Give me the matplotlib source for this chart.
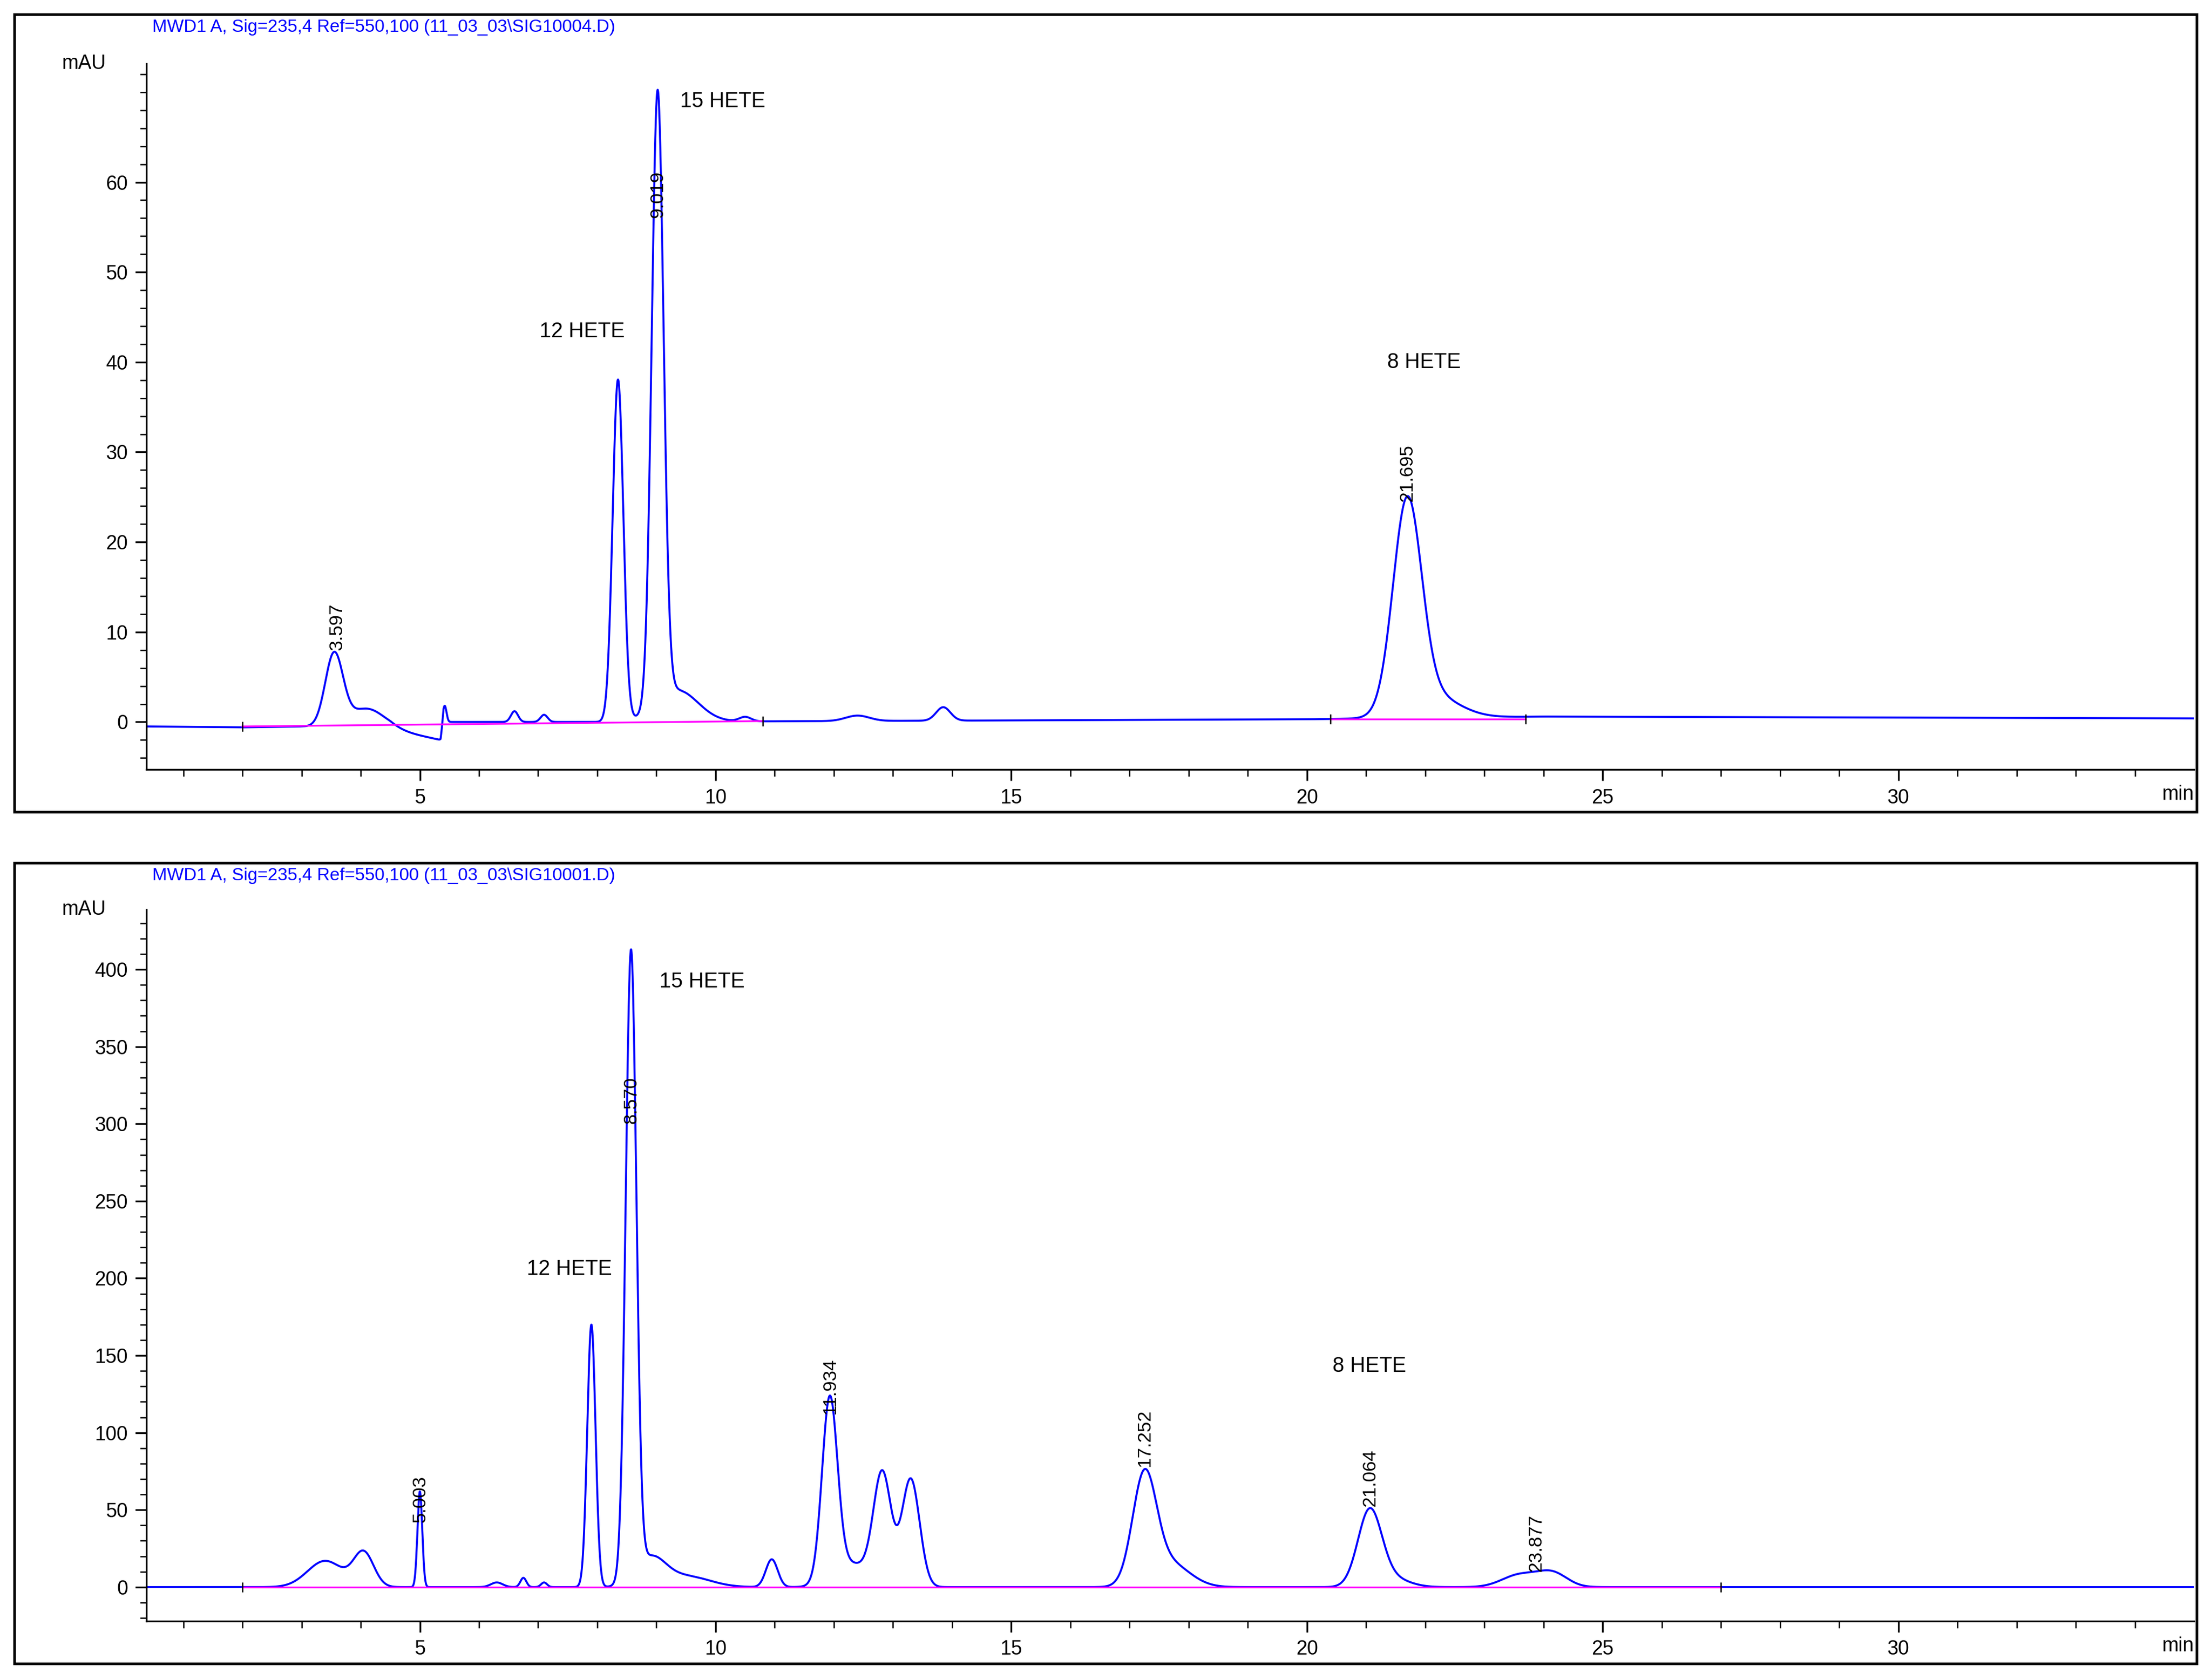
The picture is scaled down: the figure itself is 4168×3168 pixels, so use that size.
import numpy as np
import matplotlib
matplotlib.use("Agg")
import matplotlib.pyplot as plt
from matplotlib.patches import Rectangle

plt.rcParams['font.family'] = ['Liberation Sans', 'DejaVu Sans']

# ---- data: peak tables (retention time, height, width) ----
top_title = "MWD1 A, Sig=235,4 Ref=550,100 (11_03_03\\SIG10004.D)"
top_rt = [3.55, 4.1, 5.42, 6.6, 7.1, 8.35, 9.02, 9.35, 10.5, 12.4, 13.85, 21.695, 22.1]
top_h = [8.0, 2.2, 1.8, 1.2, 0.8, 38.0, 68.0, 3.5, 0.5, 0.6, 1.5, 23.0, 2.5]
top_w = [0.15, 0.3, 0.03, 0.06, 0.06, 0.09, 0.10, 0.35, 0.1, 0.2, 0.12, 0.24, 0.45]
top_base_t = [0.38, 2.0, 3.0, 4.5, 5.35, 5.4, 6.0, 8.0, 12.0, 20.0, 24.0, 35.0]
top_base_v = [-0.5, -0.6, -0.5, -0.8, -2.0, 0.0, 0.0, 0.0, 0.1, 0.3, 0.6, 0.4]
top_pink = [[(2.0, -0.5), (10.8, 0.1)], [(20.4, 0.3), (23.7, 0.3)]]
top_labels = [(3.597, 8.0, "3.597"), (9.019, 56.0, "9.019"), (21.695, 24.5, "21.695")]
top_names = [(7.02, 43.4, "12 HETE"), (9.4, 69.0, "15 HETE"), (21.36, 40.0, "8 HETE")]

bot_title = "MWD1 A, Sig=235,4 Ref=550,100 (11_03_03\\SIG10001.D)"
bot_rt = [3.4, 4.05, 5.0, 6.3, 6.75, 7.1, 7.9, 8.57, 8.9, 9.5, 10.95, 11.93, 12.3, 12.82, 13.3, 17.25, 17.65, 21.06, 21.4, 23.6, 24.15]
bot_h = [17, 22, 62, 3, 6, 3, 170, 405, 18, 7, 18, 117, 15, 72, 70, 68, 16, 48, 6, 8, 9]
bot_w = [0.3, 0.17, 0.04, 0.1, 0.05, 0.05, 0.07, 0.09, 0.25, 0.4, 0.1, 0.13, 0.3, 0.15, 0.15, 0.2, 0.35, 0.2, 0.3, 0.3, 0.25]
bot_base_t = [0.38, 35.0]
bot_base_v = [0.0, 0.0]
bot_pink = [[(2.0, 0.0), (27.0, 0.0)]]
bot_labels = [(5.003, 42, "5.003"), (8.570, 300, "8.570"), (11.934, 112, "11.934"),
              (17.252, 78, "17.252"), (21.064, 52, "21.064"), (23.877, 10, "23.877")]
bot_names = [(6.81, 206, "12 HETE"), (9.05, 392, "15 HETE"), (20.43, 143, "8 HETE")]


def signal(t, rt, h, w, bt, bv):
    y = np.interp(t, bt, bv)
    for r, a, s in zip(rt, h, w):
        y = y + a * np.exp(-0.5 * ((t - r) / s) ** 2)
    return y


fig = plt.figure(figsize=(4168 / 300, 3168 / 300), dpi=300)
W, H = 4168, 3168

def panel(box, axpos, title, rt, h, w, bt, bv, pink, labels, names, ylim, yticks, minor):
    fig.patches.append(Rectangle((box[0] / W, 1 - box[3] / H), (box[2] - box[0]) / W, (box[3] - box[1]) / H,
                                 transform=fig.transFigure, fill=False, lw=1.2, ec='black'))
    ax = fig.add_axes([axpos[0] / W, 1 - axpos[3] / H, (axpos[2] - axpos[0]) / W, (axpos[3] - axpos[1]) / H])
    t = np.linspace(0.38, 35, 20000)
    y = signal(t, rt, h, w, bt, bv)
    ax.plot(t, y, color='#0000ff', lw=0.9)
    for seg in pink:
        xs, ys = zip(*seg)
        ax.plot(xs, ys, color='#ff00ff', lw=0.8)
        for xx, yy in seg:
            ax.plot([xx, xx], [yy - (ylim[1]-ylim[0])*0.006, yy + (ylim[1]-ylim[0])*0.006], color='black', lw=0.6)
    for r, yy, s in labels:
        ax.text(r, yy, s, rotation=90, ha='center', va='bottom', fontsize=8.5)
    for xx, yy, s in names:
        ax.text(xx, yy, s, fontsize=9.5, ha='left', va='center')
    ax.set_xlim(0.38, 35)
    ax.set_ylim(*ylim)
    ax.set_xticks([5, 10, 15, 20, 25, 30])
    ax.set_xticks(np.arange(1, 35, 1), minor=True)
    ax.set_yticks(yticks)
    ax.set_yticks(np.arange(yticks[0] - 2*minor, ylim[1], minor), minor=True)
    ax.tick_params(labelsize=9, direction='out', length=5, width=0.8)
    ax.tick_params(which='minor', length=3, width=0.6)
    for sp in ['top', 'right']:
        ax.spines[sp].set_visible(False)
    ax.text(-0.02, 1.0, "mAU", transform=ax.transAxes, fontsize=9, ha='right', va='center')
    ax.text(1.0, -0.035, "min", transform=ax.transAxes, fontsize=9, ha='right', va='center')
    fig.text((box[0] + 260) / W, 1 - (box[1] + 25) / H, title, color='#0000ff', fontsize=8, va='center')

s = 4168 / 1568
panel([10*s, 10*s, 1558*s, 576*s], [104*s, 45*s, 1556*s, 546*s], top_title, top_rt, top_h, top_w,
      top_base_t, top_base_v, top_pink, top_labels, top_names, (-5.3, 73.2), [0, 10, 20, 30, 40, 50, 60], 2)
panel([10*s, 612*s, 1558*s, 1180*s], [104*s, 645*s, 1556*s, 1150*s], bot_title, bot_rt, bot_h, bot_w,
      bot_base_t, bot_base_v, bot_pink, bot_labels, bot_names, (-22, 439), [0, 50, 100, 150, 200, 250, 300, 350, 400], 10)

fig.savefig("out.png", dpi=300)
